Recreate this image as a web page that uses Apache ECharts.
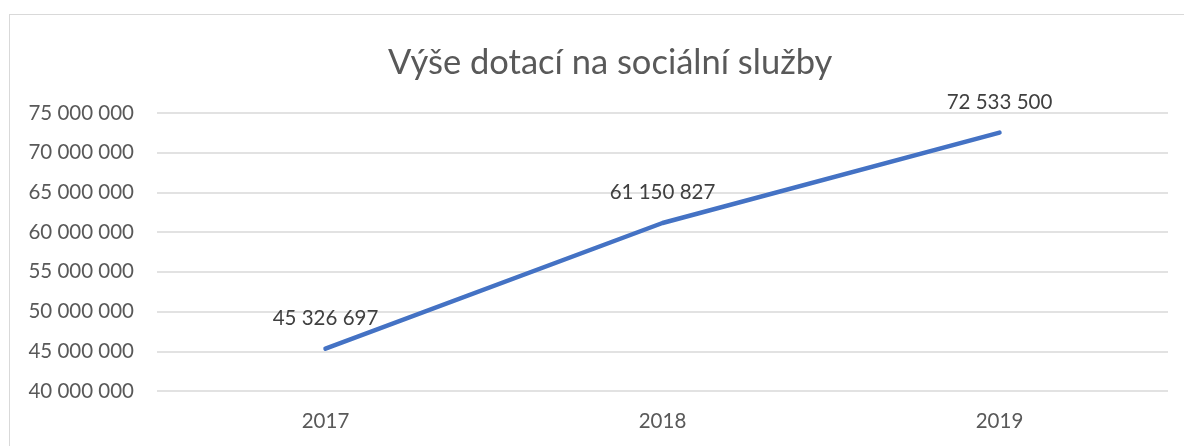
<!DOCTYPE html>
<html>
<head>
<meta charset="utf-8">
<script src="https://cdn.jsdelivr.net/npm/echarts@6/dist/echarts.min.js"></script>
<style>
  html, body { margin: 0; padding: 0; background: #fff; overflow: hidden; }
  #frame { position: absolute; left: 9px; top: 14px; width: 1400px; height: 600px; border: 1px solid #d9d9d9; }
  #chart { position: absolute; left: 0; top: 0; width: 1184px; height: 446px; }
</style>
</head>
<body>
<div id="frame"></div>
<div id="chart"></div>
<script>
// data
const years = ['2017', '2018', '2019']
const dotace = [45326697, 61150827, 72533500]

const fmt = v => String(v).replace(/\B(?=(\d{3})+(?!\d))/g, ' ')

const chart = echarts.init(document.getElementById('chart'))

const option = {
  animation: false,
  textStyle: { fontFamily: 'Lato' },
  title: {
    text: 'Výše dotací na sociální služby',
    left: 383,
    top: 40,
    textStyle: { fontFamily: 'Lato', fontSize: 34.5, fontWeight: 'normal', color: '#595959' }
  },
  grid: { left: 157, right: 16, top: 113, bottom: 55 },
  xAxis: {
    type: 'category',
    data: years,
    axisLine: { show: false },
    axisTick: { show: false },
    axisLabel: { fontSize: 20.5, color: '#595959', margin: 20 }
  },
  yAxis: {
    type: 'value',
    min: 40000000,
    max: 75000000,
    interval: 5000000,
    axisLine: { show: false },
    axisTick: { show: false },
    axisLabel: { fontSize: 20.5, color: '#595959', margin: 23, formatter: fmt },
    splitLine: { lineStyle: { color: '#d9d9d9', width: 1.5 } }
  },
  series: [{
    type: 'line',
    data: dotace,
    showSymbol: true,
    symbol: 'circle',
    symbolSize: 0,
    lineStyle: { color: '#4472c4', width: 4.5, cap: 'round' },
    itemStyle: { color: '#4472c4' },
    label: {
      show: true,
      position: 'top',
      distance: 20,
      fontSize: 20.5,
      color: '#404040',
      formatter: p => fmt(p.value)
    }
  }]
}

chart.setOption(option)
</script>
</body>
</html>
